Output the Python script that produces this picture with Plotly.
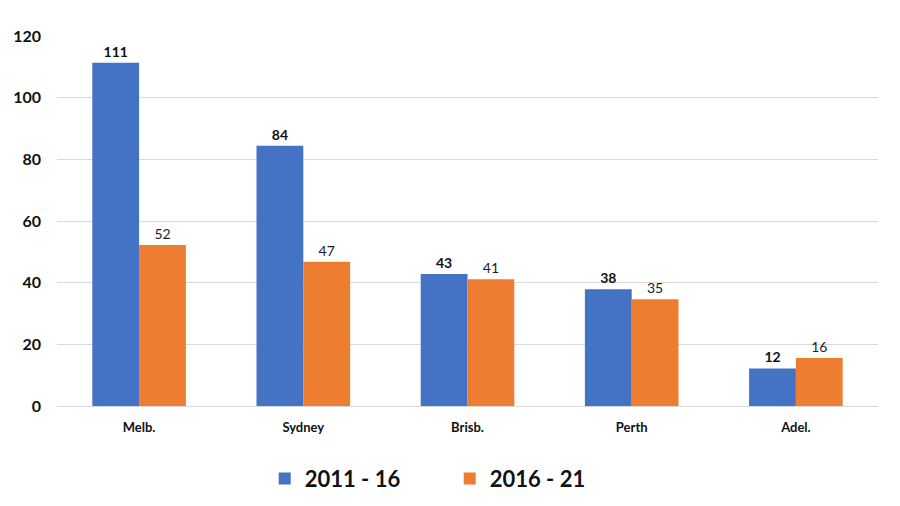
import plotly.graph_objects as go

categories = ["Melb.", "Sydney", "Brisb.", "Perth", "Adel."]
series_2011_16 = [111.3, 84.4, 42.8, 37.9, 12.2]
series_2016_21 = [52.2, 46.8, 41.1, 34.6, 15.6]
y_ticks = [0, 20, 40, 60, 80, 100, 120]

BLUE = "#4472C4"
ORANGE = "#ED7D31"
FONT = "Lato, DejaVu Sans, sans-serif"

fig = go.Figure()
fig.add_trace(go.Bar(
    x=categories, y=series_2011_16, name="2011 - 16",
    marker=dict(color=BLUE, line=dict(color=BLUE, width=0)),
    text=[f"{v:.0f}" for v in series_2011_16], textposition="outside",
    textfont=dict(family=FONT, size=14, color="#111111", weight="bold"),
    cliponaxis=False,
))
fig.add_trace(go.Bar(
    x=categories, y=series_2016_21, name="2016 - 21",
    marker=dict(color=ORANGE, line=dict(color=ORANGE, width=0)),
    text=[f"{v:.0f}" for v in series_2016_21], textposition="outside",
    textfont=dict(family=FONT, size=14, color="#222222"),
    cliponaxis=False,
))

fig.update_layout(
    width=892, height=498,
    margin=dict(l=49, r=22, t=28, b=100, autoexpand=False),
    paper_bgcolor="white", plot_bgcolor="white",
    barmode="group", bargap=0.43, bargroupgap=0,
    font=dict(family=FONT, color="#111111"),
    showlegend=True,
    legend=dict(
        orientation="h", x=0.253, xanchor="left", y=-0.14, yanchor="top",
        font=dict(family=FONT, size=22, color="#111111", weight="bold"),
        itemwidth=30, traceorder="normal",
        entrywidth=140, entrywidthmode="pixels",
    ),
)
fig.update_xaxes(
    showgrid=False, showline=True, linecolor="#d9d9d9", linewidth=1,
    tickfont=dict(family=FONT, size=13, color="#111111", weight="bold"),
    ticks="", ticklabelstandoff=9, automargin=False,
)
fig.update_yaxes(
    range=[0, 120], tickvals=y_ticks, showgrid=True, gridcolor="#d9d9d9",
    gridwidth=1, zeroline=False, showline=False, ticks="",
    tickfont=dict(family=FONT, size=16, color="#111111", weight="bold"),
    ticklabelstandoff=15, automargin=False,
)
fig.write_html("out.html")
